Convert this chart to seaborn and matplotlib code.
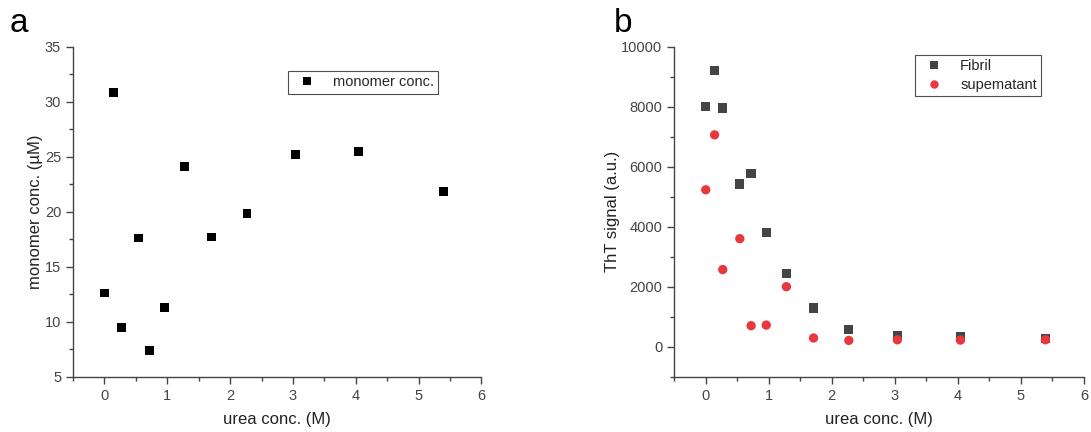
import matplotlib
matplotlib.use("Agg")
import matplotlib.pyplot as plt
from matplotlib.ticker import MultipleLocator, AutoMinorLocator
import seaborn as sns
import pandas as pd

urea = [0.0, 0.14, 0.27, 0.54, 0.72, 0.96, 1.28, 1.71, 2.27, 3.04, 4.04, 5.39]
monomer = [12.6, 30.8, 9.5, 17.6, 7.4, 11.3, 24.1, 17.7, 19.8, 25.2, 25.5, 21.8]
fibril = [8000, 9200, 7960, 5420, 5780, 3800, 2440, 1290, 570, 360, 320, 270]
supernatant = [5230, 7060, 2570, 3600, 700, 720, 2000, 290, 210, 230, 220, 230]

sns.set_style("white")
plt.rcParams['font.family'] = ['Liberation Sans', 'DejaVu Sans']

df_a = pd.DataFrame({"urea": urea, "monomer": monomer, "series": "monomer conc."})
df_b = pd.concat([
    pd.DataFrame({"urea": urea, "signal": fibril, "series": "Fibril"}),
    pd.DataFrame({"urea": urea, "signal": supernatant, "series": "supematant"}),
])

fig = plt.figure(figsize=(10.91, 4.32), dpi=100)
ax1 = fig.add_axes([0.0669, 0.128, 0.3744, 0.764])
ax2 = fig.add_axes([0.618, 0.128, 0.3755, 0.764])

sns.scatterplot(data=df_a, x="urea", y="monomer", hue="series", style="series",
                palette={"monomer conc.": "black"}, markers={"monomer conc.": "s"},
                s=40, linewidth=0, ax=ax1)
sns.scatterplot(data=df_b, x="urea", y="signal", hue="series", style="series",
                palette={"Fibril": "#444444", "supematant": "#e8383d"},
                markers={"Fibril": "s", "supematant": "o"},
                s=45, linewidth=0, ax=ax2)

ax1.set_xlim(-0.5, 6)
ax1.set_ylim(5, 35)
ax1.yaxis.set_major_locator(MultipleLocator(5))
ax2.set_xlim(-0.5, 6)
ax2.set_ylim(-1000, 10000)
ax2.set_yticks([0, 2000, 4000, 6000, 8000, 10000])

for ax in (ax1, ax2):
    ax.xaxis.set_major_locator(MultipleLocator(1))
    ax.xaxis.set_minor_locator(AutoMinorLocator(2))
    ax.yaxis.set_minor_locator(AutoMinorLocator(2))
    for side in ("top", "right"):
        ax.spines[side].set_visible(False)
    for side in ("left", "bottom"):
        ax.spines[side].set_color("#444444")
        ax.spines[side].set_linewidth(1.0)
    ax.tick_params(which="major", direction="out", length=5, width=1,
                   color="#444444", labelcolor="#444444", labelsize=10.5,
                   bottom=True, left=True)
    ax.tick_params(which="minor", direction="out", length=3, width=1,
                   color="#444444", bottom=True, left=True)
    ax.set_xlabel("urea conc. (M)", fontsize=12, color="#222222", labelpad=7)

ax1.set_ylabel("monomer conc. (µM)", fontsize=12, color="#222222", labelpad=1)
ax2.set_ylabel("ThT signal (a.u.)", fontsize=12, color="#222222", labelpad=1)

leg1 = ax1.legend(loc="upper left", bbox_to_anchor=(0.526, 0.926), frameon=True,
                  fontsize=10.5, handletextpad=0.8, borderpad=0.3,
                  borderaxespad=0, markerscale=0.9, fancybox=False)
leg1.get_frame().set_edgecolor("#222222")
leg1.get_frame().set_linewidth(0.8)

leg2 = ax2.legend(loc="upper left", bbox_to_anchor=(0.5875, 0.975), frameon=True,
                  fontsize=10.5, handletextpad=0.8, borderpad=0.3,
                  borderaxespad=0, labelspacing=0.3, markerscale=0.9,
                  fancybox=False)
leg2.get_frame().set_edgecolor("#222222")
leg2.get_frame().set_linewidth(0.8)

fig.text(0.009, 0.925, "a", fontsize=24, color="black")
fig.text(0.563, 0.925, "b", fontsize=24, color="black")

fig.savefig("out.png", dpi=100)
